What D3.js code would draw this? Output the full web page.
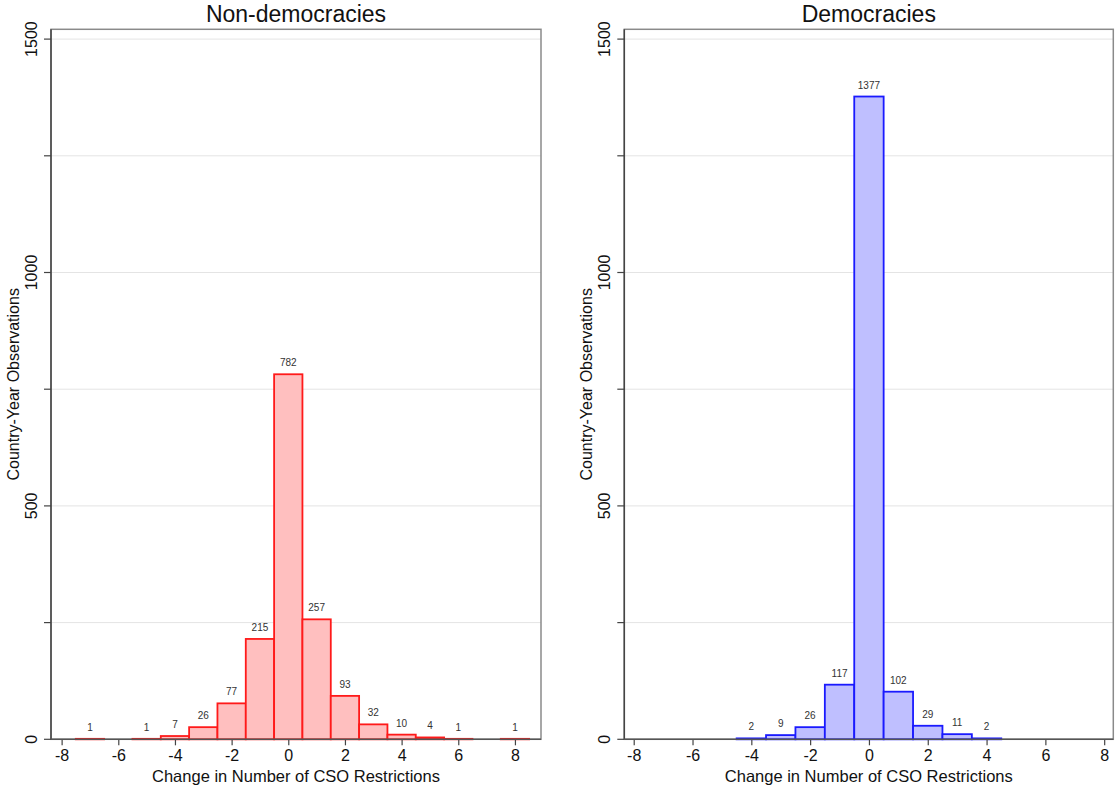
<!DOCTYPE html>
<html>
<head>
<meta charset="utf-8">
<script src="https://cdn.jsdelivr.net/npm/d3@7"></script>
<style>
    body { margin: 0; background: #fff; }
    svg { display: block; font-family: "Liberation Sans", Arial, Helvetica, sans-serif; }
</style>
</head>
<body>
<div id="chart"></div>
<script>
// data
const nonDemBins = [-7, -6, -5, -4, -3, -2, -1, 0, 1, 2, 3, 4, 5, 6, 7, 8];
const nonDemCounts = [1, 0, 1, 7, 26, 77, 215, 782, 257, 93, 32, 10, 4, 1, 0, 1];
const demBins = [-4, -3, -2, -1, 0, 1, 2, 3, 4];
const demCounts = [2, 9, 26, 117, 1377, 102, 29, 11, 2];
const xTicks = [-8, -6, -4, -2, 0, 2, 4, 6, 8];
const yTicks = [0, 500, 1000, 1500];
const yGrid = [250, 500, 750, 1000, 1250, 1500];

// page size
const W = 1115, H = 786;

const svg = d3.select('#chart')
    .append('svg')
    .attr('width', W)
    .attr('height', H);

// drawing one histogram panel
function panel(opts) {
    const {title, bins, counts, left, right, xDomain, fill, stroke} = opts;
    const top = 29.3, bottom = 739.3;

    const data = bins.map((b, i) => ({bin: b, n: counts[i]}));

    const scaleX = d3.scaleLinear().domain(xDomain).range([left, right]);
    const scaleY = d3.scaleLinear().domain([0, 1521]).range([bottom, top]);

    const g = svg.append('g');

    // gridlines
    g.selectAll('.grid')
        .data(yGrid)
        .enter()
        .append('line')
        .attr('x1', left).attr('x2', right)
        .attr('y1', d => scaleY(d)).attr('y2', d => scaleY(d))
        .style('stroke', '#e4e4e4')
        .style('stroke-width', 1);

    // frame (top/right)
    g.append('rect')
        .attr('x', left).attr('y', top)
        .attr('width', right - left).attr('height', bottom - top)
        .style('fill', 'none')
        .style('stroke', '#8a8a8a')
        .style('stroke-width', 1.5);

    // bars
    g.selectAll('.bar')
        .data(data.filter(d => d.n > 0))
        .enter()
        .append('rect')
        .attr('x', d => scaleX(d.bin - 0.5))
        .attr('width', d => scaleX(d.bin + 0.5) - scaleX(d.bin - 0.5))
        .attr('y', d => scaleY(d.n))
        .attr('height', d => scaleY(0) - scaleY(d.n))
        .style('fill', fill)
        .style('stroke', stroke)
        .style('stroke-width', 1.8);

    // bar labels
    g.selectAll('.bar-label')
        .data(data.filter(d => d.n > 0))
        .enter()
        .append('text')
        .attr('x', d => scaleX(d.bin))
        .attr('y', d => scaleY(d.n) - 8)
        .attr('text-anchor', 'middle')
        .style('font-size', '10px')
        .style('fill', '#333')
        .text(d => d.n);

    // y axis
    const axisY = d3.axisLeft(scaleY)
        .tickValues([0, 250, 500, 750, 1000, 1250, 1500])
        .tickSize(7)
        .tickFormat(d => yTicks.includes(d) ? String(d) : '');
    const yAxisNode = g.append('g')
        .attr('transform', `translate(${left},0)`)
        .call(axisY);
    yAxisNode.select('.domain').remove();
    yAxisNode.selectAll('line').style('stroke', '#444').style('stroke-width', 1.2);
    yAxisNode.selectAll('.tick').attr('transform', null);
    yAxisNode.selectAll('.tick line')
        .attr('y1', d => scaleY(d)).attr('y2', d => scaleY(d));
    yAxisNode.selectAll('text')
        .attr('x', 0)
        .attr('y', 0)
        .attr('dy', null)
        .attr('text-anchor', 'middle')
        .attr('transform', d => `translate(-14,${scaleY(d)}) rotate(-90)`)
        .style('font-size', '16px')
        .style('font-family', '"Liberation Sans", Arial, sans-serif')
        .style('fill', '#111');

    g.append('line')
        .attr('x1', left).attr('x2', left)
        .attr('y1', top).attr('y2', bottom)
        .style('stroke', '#444').style('stroke-width', 1.5);

    // x axis
    const axisX = d3.axisBottom(scaleX)
        .tickValues(xTicks)
        .tickSize(6)
        .tickPadding(4)
        .tickFormat(d => String(d));
    const xAxisNode = g.append('g')
        .attr('transform', `translate(0,${bottom})`)
        .call(axisX);
    xAxisNode.select('.domain').remove();
    xAxisNode.selectAll('line').style('stroke', '#444').style('stroke-width', 1.2);
    xAxisNode.selectAll('text')
        .style('font-size', '16px')
        .style('font-family', '"Liberation Sans", Arial, sans-serif')
        .style('fill', '#111');

    g.append('line')
        .attr('x1', left).attr('x2', right)
        .attr('y1', bottom).attr('y2', bottom)
        .style('stroke', '#555').style('stroke-width', 1.5);

    // titles
    g.append('text')
        .attr('x', (left + right) / 2)
        .attr('y', 22)
        .attr('text-anchor', 'middle')
        .style('font-size', '23px')
        .style('fill', '#111')
        .text(title);

    g.append('text')
        .attr('x', (left + right) / 2)
        .attr('y', 782)
        .attr('text-anchor', 'middle')
        .style('font-size', '16.5px')
        .style('fill', '#111')
        .text('Change in Number of CSO Restrictions');

    g.append('text')
        .attr('transform', `translate(${left - 32},${(top + bottom) / 2}) rotate(-90)`)
        .attr('text-anchor', 'middle')
        .style('font-size', '16px')
        .style('fill', '#111')
        .text('Country-Year Observations');
}

panel({
    title: 'Non-democracies',
    bins: nonDemBins,
    counts: nonDemCounts,
    left: 51, right: 541,
    xDomain: [-8.375, 8.92],
    fill: '#ffbfbf',
    stroke: '#ff1a1a'
});

panel({
    title: 'Democracies',
    bins: demBins,
    counts: demCounts,
    left: 624.3, right: 1113.3,
    xDomain: [-8.32, 8.31],
    fill: '#bfbfff',
    stroke: '#1a1aff'
});
</script>
</body>
</html>
